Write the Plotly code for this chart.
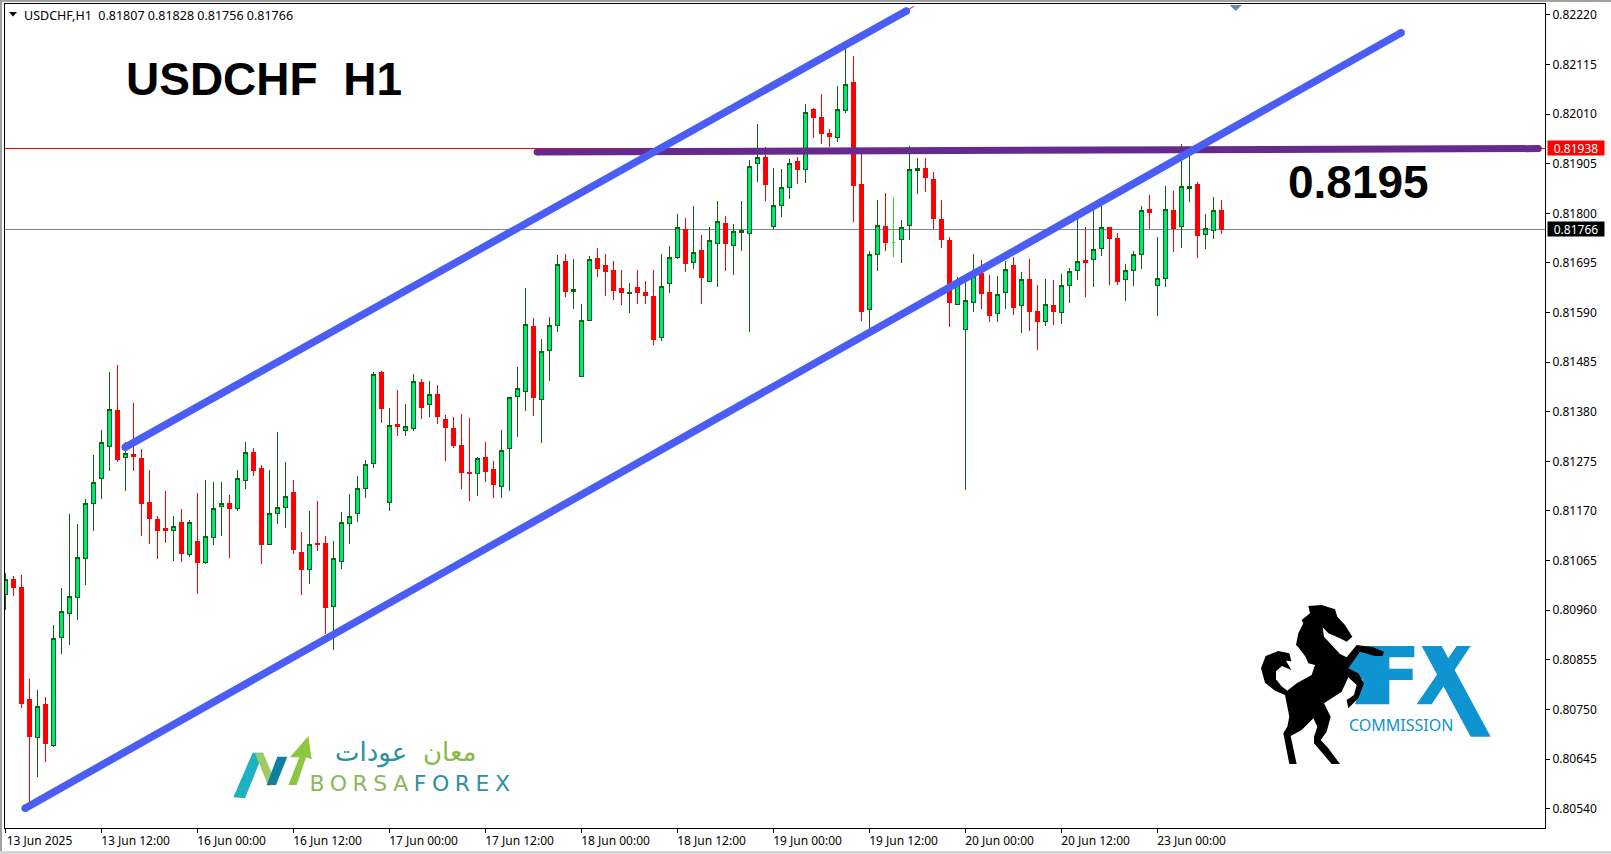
import plotly.graph_objects as go

W, H = 1611, 854
L, R, T, B = 5, 1545, 4, 828

opens = [0.80994,0.81024,0.81007,0.80770,0.80690,0.80761,0.80673,0.80903,0.80953,0.80987,
0.81070,0.81186,0.81239,0.81307,0.81382,0.81284,0.81290,0.81282,0.81188,0.81152,
0.81133,0.81129,0.81146,0.81078,0.81106,0.81061,0.81114,0.81180,0.81186,0.81176,
0.81235,0.81294,0.81260,0.81099,0.81165,0.81178,0.81210,0.81082,0.81046,0.81102,
0.81102,0.80967,0.81063,0.81144,0.81165,0.81218,0.81271,0.81464,0.81188,0.81353,
0.81340,0.81344,0.81441,0.81395,0.81417,0.81364,0.81345,0.81309,0.81252,0.81249,
0.81284,0.81258,0.81222,0.81302,0.81412,0.81423,0.81561,0.81405,0.81510,0.81563,
0.81697,0.81634,0.81455,0.81573,0.81705,0.81690,0.81678,0.81640,0.81630,0.81642,
0.81633,0.81623,0.81537,0.81652,0.81707,0.81766,0.81696,0.81721,0.81656,0.81736,
0.81779,0.81732,0.81760,0.81758,0.81905,0.81919,0.81772,0.81816,0.81854,0.81909,
0.81893,0.82020,0.82003,0.81969,0.81961,0.82018,0.82076,0.81861,0.81597,0.81713,
0.81772,0.81738,0.81745,0.81774,0.81891,0.81895,0.81872,0.81787,0.81743,0.81608,
0.81555,0.81612,0.81672,0.81633,0.81587,0.81633,0.81689,0.81604,0.81659,0.81592,
0.81570,0.81604,0.81591,0.81648,0.81678,0.81700,0.81703,0.81726,0.81769,0.81746,
0.81659,0.81678,0.81712,0.81808,0.81648,0.81663,0.81806,0.81773,0.81853,0.81860,
0.81756,0.81764,0.81807]
highs = [0.81038,0.81032,0.81034,0.80814,0.80791,0.80776,0.80929,0.81007,0.81164,0.81142,
0.81195,0.81289,0.81341,0.81464,0.81479,0.81317,0.81399,0.81301,0.81257,0.81159,
0.81212,0.81159,0.81174,0.81150,0.81207,0.81236,0.81231,0.81231,0.81204,0.81257,
0.81316,0.81303,0.81267,0.81257,0.81337,0.81274,0.81236,0.81126,0.81169,0.81191,
0.81117,0.81106,0.81168,0.81206,0.81244,0.81277,0.81464,0.81466,0.81387,0.81426,
0.81396,0.81460,0.81449,0.81445,0.81436,0.81373,0.81369,0.81375,0.81366,0.81285,
0.81316,0.81275,0.81341,0.81411,0.81474,0.81642,0.81578,0.81533,0.81580,0.81712,
0.81714,0.81703,0.81608,0.81709,0.81726,0.81714,0.81699,0.81680,0.81652,0.81680,
0.81657,0.81680,0.81714,0.81731,0.81798,0.81790,0.81815,0.81754,0.81771,0.81826,
0.81794,0.81777,0.81826,0.81913,0.81989,0.81940,0.81896,0.81894,0.81915,0.81919,
0.82031,0.82023,0.82053,0.81978,0.82069,0.82148,0.82133,0.81930,0.81720,0.81828,
0.81843,0.81834,0.81786,0.81942,0.81917,0.81917,0.81887,0.81828,0.81750,0.81666,
0.81663,0.81714,0.81702,0.81670,0.81668,0.81700,0.81708,0.81676,0.81704,0.81649,
0.81662,0.81659,0.81672,0.81684,0.81788,0.81770,0.81808,0.81816,0.81771,0.81759,
0.81693,0.81721,0.81816,0.81839,0.81750,0.81858,0.81848,0.81947,0.81928,0.81867,
0.81799,0.81835,0.81828]
lows = [0.80960,0.80989,0.80754,0.80548,0.80608,0.80639,0.80670,0.80868,0.80887,0.80940,
0.81014,0.81128,0.81196,0.81255,0.81274,0.81213,0.81255,0.81118,0.81101,0.81069,
0.81103,0.81065,0.81061,0.81073,0.80995,0.81058,0.81099,0.81116,0.81071,0.81169,
0.81217,0.81243,0.81058,0.81099,0.81142,0.81135,0.81078,0.80992,0.81016,0.81085,
0.80910,0.80876,0.81048,0.81101,0.81147,0.81198,0.81260,0.81357,0.81169,0.81329,
0.81328,0.81340,0.81364,0.81369,0.81354,0.81275,0.81304,0.81216,0.81191,0.81202,
0.81231,0.81198,0.81198,0.81213,0.81326,0.81382,0.81371,0.81314,0.81445,0.81549,
0.81623,0.81598,0.81455,0.81573,0.81665,0.81625,0.81617,0.81606,0.81589,0.81608,
0.81608,0.81521,0.81530,0.81631,0.81703,0.81676,0.81682,0.81608,0.81655,0.81644,
0.81678,0.81669,0.81720,0.81549,0.81866,0.81826,0.81766,0.81793,0.81831,0.81862,
0.81864,0.81959,0.81947,0.81940,0.81951,0.82013,0.81782,0.81572,0.81555,0.81678,
0.81720,0.81707,0.81695,0.81743,0.81841,0.81845,0.81767,0.81726,0.81559,0.81606,
0.81214,0.81592,0.81598,0.81571,0.81571,0.81597,0.81584,0.81546,0.81550,0.81511,
0.81561,0.81563,0.81565,0.81611,0.81659,0.81622,0.81645,0.81709,0.81649,0.81649,
0.81615,0.81647,0.81683,0.81767,0.81582,0.81643,0.81719,0.81726,0.81825,0.81705,
0.81724,0.81746,0.81756]
closes = [0.81025,0.81008,0.80762,0.80692,0.80756,0.80677,0.80900,0.80958,0.80989,0.81072,
0.81186,0.81231,0.81315,0.81385,0.81279,0.81292,0.81285,0.81186,0.81154,0.81128,
0.81129,0.81138,0.81080,0.81146,0.81061,0.81116,0.81176,0.81186,0.81175,0.81239,
0.81294,0.81255,0.81099,0.81165,0.81178,0.81201,0.81088,0.81046,0.81099,0.81099,
0.80965,0.81070,0.81146,0.81159,0.81218,0.81269,0.81459,0.81387,0.81351,0.81349,
0.81349,0.81444,0.81390,0.81417,0.81369,0.81346,0.81308,0.81251,0.81249,0.81281,
0.81253,0.81227,0.81298,0.81410,0.81429,0.81565,0.81410,0.81508,0.81563,0.81692,
0.81634,0.81639,0.81573,0.81702,0.81683,0.81676,0.81636,0.81632,0.81633,0.81632,
0.81625,0.81532,0.81645,0.81707,0.81770,0.81694,0.81717,0.81664,0.81743,0.81783,
0.81736,0.81762,0.81764,0.81899,0.81918,0.81861,0.81817,0.81855,0.81906,0.81892,
0.82014,0.82002,0.81969,0.81962,0.82020,0.82073,0.81858,0.81593,0.81713,0.81774,
0.81738,0.81738,0.81770,0.81893,0.81895,0.81875,0.81789,0.81744,0.81611,0.81649,
0.81616,0.81666,0.81631,0.81584,0.81629,0.81682,0.81601,0.81659,0.81592,0.81571,
0.81606,0.81592,0.81648,0.81676,0.81699,0.81696,0.81724,0.81769,0.81747,0.81656,
0.81680,0.81712,0.81807,0.81802,0.81663,0.81809,0.81767,0.81856,0.81856,0.81753,
0.81767,0.81805,0.81766]

time_tick_bars = [0,12,24,36,48,60,72,84,96,108,120,132,144]
time_tick_labels = ["13 Jun 2025","13 Jun 12:00","16 Jun 00:00","16 Jun 12:00","17 Jun 00:00",
    "17 Jun 12:00","18 Jun 00:00","18 Jun 12:00","19 Jun 00:00","19 Jun 12:00",
    "20 Jun 00:00","20 Jun 12:00","23 Jun 00:00"]
price_ticks = [0.82220,0.82115,0.82010,0.81905,0.81800,0.81695,0.81590,0.81485,0.81380,
    0.81275,0.81170,0.81065,0.80960,0.80855,0.80750,0.80645,0.80540]

lower_channel_x = [2.46, 174.46]
lower_channel_y = [0.80541, 0.82182]
upper_channel_x = [14.96, 112.6]
upper_channel_y = [0.81305, 0.82228]
upper_stub_x = [112.6, 113.6]
upper_stub_y = [0.82228, 0.82239]
resistance_x = [66.46, 191.6]
resistance_y = [0.81930, 0.81937]
resistance_level = 0.81938
last_price = 0.81766

x_range = [(L - 5.5) / 8, (R - 5.5) / 8]
y_range = [0.80499, 0.82243]

BLUE = "#4a5df5"
PURPLE = "#662a8e"
UP = "#00e676"
UP_EDGE = "#0b640b"
DOWN = "#ff0000"
FX_BLUE = "#0e94d0"
AXIS_FONT = "Noto Sans"


def px(x):
    return (x - L) / (R - L)


def py(y):
    return (B - y) / (B - T)


def path(points, dx, dy, k=1 / 3):
    parts = []
    for n, (a, b) in enumerate(points):
        parts.append(("M" if n == 0 else "L") + f"{px(dx + a * k):.5f},{py(dy + b * k):.5f}")
    return " ".join(parts) + " Z"


def deco(points, color, dx, dy):
    return dict(type="path", xref="paper", yref="paper", path=path(points, dx, dy),
                fillcolor=color, line=dict(width=0), layer="above")


bars = list(range(len(opens)))
plain = [i for i in bars if opens[i] != closes[i]]
flat = [i for i in bars if opens[i] == closes[i]]

fig = go.Figure()
fig.add_trace(go.Candlestick(
    x=plain,
    open=[opens[i] for i in plain], high=[highs[i] for i in plain],
    low=[lows[i] for i in plain], close=[closes[i] for i in plain],
    increasing=dict(line=dict(color=UP_EDGE, width=1), fillcolor=UP),
    decreasing=dict(line=dict(color=DOWN, width=1), fillcolor=DOWN),
    whiskerwidth=0, showlegend=False, hoverinfo="skip"))
fig.add_trace(go.Candlestick(
    x=flat,
    open=[opens[i] for i in flat], high=[highs[i] for i in flat],
    low=[lows[i] for i in flat], close=[closes[i] for i in flat],
    increasing=dict(line=dict(color="#22e022", width=1), fillcolor="#22e022"),
    decreasing=dict(line=dict(color="#22e022", width=1), fillcolor="#22e022"),
    whiskerwidth=0, showlegend=False, hoverinfo="skip"))

fig.add_trace(go.Scatter(x=resistance_x, y=resistance_y, mode="lines+markers",
    line=dict(color=PURPLE, width=7), marker=dict(color=PURPLE, size=7),
    showlegend=False, hoverinfo="skip"))
fig.add_trace(go.Scatter(x=upper_stub_x, y=upper_stub_y, mode="lines",
    line=dict(color=DOWN, width=1, dash="dash"), showlegend=False, hoverinfo="skip"))
fig.add_trace(go.Scatter(x=upper_channel_x, y=upper_channel_y, mode="lines+markers",
    line=dict(color=BLUE, width=7.5), marker=dict(color=BLUE, size=7.5),
    showlegend=False, hoverinfo="skip"))
fig.add_trace(go.Scatter(x=lower_channel_x, y=lower_channel_y, mode="lines+markers",
    line=dict(color=BLUE, width=7.5), marker=dict(color=BLUE, size=7.5),
    showlegend=False, hoverinfo="skip"))

shapes = [
    dict(type="line", xref="x domain", yref="y", x0=0, x1=1, y0=resistance_level, y1=resistance_level,
         line=dict(color=DOWN, width=1), layer="below"),
    dict(type="line", xref="x domain", yref="y", x0=0, x1=1, y0=last_price, y1=last_price,
         line=dict(color="#778899", width=1), layer="below"),
    dict(type="rect", xref="paper", yref="paper", x0=px(0), x1=px(W), y0=py(0), y1=py(2),
         fillcolor="#a0a0a0", line=dict(width=0), layer="above"),
    dict(type="rect", xref="paper", yref="paper", x0=px(0), x1=px(2), y0=py(0), y1=py(H),
         fillcolor="#a0a0a0", line=dict(width=0), layer="above"),
    dict(type="rect", xref="paper", yref="paper", x0=px(0), x1=px(W), y0=py(851), y1=py(H),
         fillcolor="#d8d8d8", line=dict(width=0), layer="above"),
    dict(type="path", xref="paper", yref="paper",
         path=f"M{px(9):.5f},{py(12):.5f} L{px(17):.5f},{py(12):.5f} L{px(13):.5f},{py(16.5):.5f} Z",
         fillcolor="black", line=dict(width=0), layer="above"),
    dict(type="path", xref="paper", yref="paper",
         path=f"M{px(1229.5):.5f},{py(5):.5f} L{px(1242):.5f},{py(5):.5f} L{px(1235.7):.5f},{py(11):.5f} Z",
         fillcolor="#778899", line=dict(width=0), layer="above"),
]

# FX COMMISSION logo
fx_dx, fx_dy = 1200, 570
shapes.append(deco([(480,228),(643,228),(643,262),(568,262),(568,296),(638,296),(638,330),(568,330),
                    (568,403),(465,403),(490,330),(442,298)], FX_BLUE, fx_dx, fx_dy))
shapes.append(deco([(665,228),(725,228),(872,500),(812,500)], FX_BLUE, fx_dx, fx_dy))
shapes.append(deco([(770,228),(812,228),(695,403),(650,403)], FX_BLUE, fx_dx, fx_dy))
horse = [(325,108),(365,105),(405,118),(412,140),(435,165),(457,200),(440,215),(420,205),(385,190),(368,172),
         (372,200),(395,225),(420,252),(440,262),(470,225),(520,232),(552,245),(548,258),(525,258),(480,245),
         (445,295),(475,310),(492,340),(475,385),(445,415),(440,390),(462,375),(470,345),(445,322),(425,365),
         (372,400),(392,440),(380,485),(362,510),(385,535),(420,582),(395,582),(342,520),(342,500),(352,470),
         (340,445),(305,480),(272,498),(290,582),(268,582),(250,490),(262,470),(268,440),(255,375),
         (225,362),(195,338),(183,295),(197,258),(235,243),(268,250),(274,274),(258,272),(274,300),(246,288),
         (228,304),(228,328),(244,348),(262,362),(290,340),(335,315),(345,285),(325,280),(315,258),(295,232),(288,225),
         (295,190),(310,160),(305,150),(330,130)]
shapes.append(deco(horse, "black", fx_dx, fx_dy))

# BORSAFOREX logo
bf_dx, bf_dy = 200, 700
shapes.append(deco([(100,292),(158,158),(190,158),(135,295)], "#1fb0c4", bf_dx, bf_dy))
shapes.append(deco([(165,160),(190,160),(228,250),(205,258)], "#9ccc65", bf_dx, bf_dy))
shapes.append(deco([(200,255),(232,170),(262,170),(228,255)], "#0d7f9f", bf_dx, bf_dy))
shapes.append(deco([(265,255),(298,172),(270,172),(325,108),(335,178),(318,172),(290,255)], "#8dc63f", bf_dx, bf_dy))


def note(x, y, text, size, color="black", family="Liberation Sans", xanchor="center", **kw):
    return dict(xref="paper", yref="paper", x=px(x), y=py(y), text=text, showarrow=False,
                xanchor=xanchor, yanchor="middle", font=dict(family=family, size=size, color=color), **kw)


annotations = [
    note(22, 15, "USDCHF,H1&nbsp;&nbsp;0.81807 0.81828 0.81756 0.81766", 12.5, family=AXIS_FONT, xanchor="left"),
    note(263.5, 79, "<b>USDCHF&nbsp;&nbsp;H1</b>", 46),
    note(1358, 182, "<b>0.8195</b>", 46),
    note(1401, 725, "COMMISSION", 16, color=FX_BLUE, family="Noto Sans"),
    note(412.5, 783, "<span style='color:#8ab85c'>BORSA</span><span style='color:#2f8f9f'>FOREX</span>", 22,
         family="DejaVu Sans"),
    note(449.5, 752, "معان", 26, color="#8ab84a", family="DejaVu Sans"),
    note(371, 752, "عودات", 26, color="#2a8f9f", family="DejaVu Sans"),
    dict(xref="paper", yref="y", x=px(1547), y=resistance_level, text="0.81938", showarrow=False,
         xanchor="left", yanchor="middle", bgcolor=DOWN, width=56, height=14, borderpad=0,
         font=dict(family=AXIS_FONT, size=12, color="white")),
    dict(xref="paper", yref="y", x=px(1547), y=last_price, text="0.81766", showarrow=False,
         xanchor="left", yanchor="middle", bgcolor="black", width=56, height=14, borderpad=0,
         font=dict(family=AXIS_FONT, size=12, color="white")),
]

fig.update_layout(
    width=W, height=H, margin=dict(l=L, r=W - R, t=T, b=H - B, pad=0, autoexpand=False),
    paper_bgcolor="white", plot_bgcolor="white", showlegend=False,
    shapes=shapes, annotations=annotations,
    font=dict(family=AXIS_FONT, size=12, color="black"),
    xaxis=dict(range=x_range, rangeslider=dict(visible=False), showgrid=False, zeroline=False,
               showline=True, mirror=True, linecolor="black", linewidth=1,
               tickmode="array", tickvals=time_tick_bars, ticktext=time_tick_labels,
               ticks="outside", ticklen=4, tickcolor="black", ticklabelshift=34, ticklabelstandoff=-2,
               tickfont=dict(family=AXIS_FONT, size=12, color="black")),
    yaxis=dict(range=y_range, side="right", showgrid=False, zeroline=False,
               showline=True, mirror=True, linecolor="black", linewidth=1,
               tickmode="array", tickvals=price_ticks, ticktext=[f"{v:.5f}" for v in price_ticks],
               ticks="outside", ticklen=4, tickcolor="black",
               tickfont=dict(family=AXIS_FONT, size=12, color="black")),
)

post = """
document.body.style.margin = '0';
document.body.style.overflow = 'hidden';
document.querySelectorAll('.annotation-text').forEach(function (t) {
  if (t.textContent === 'BORSAFOREX') { t.style.letterSpacing = '5.5px'; }
});
document.querySelectorAll('.layer-below .shapelayer path, .trace.boxes path').forEach(function (p) {
  p.style.shapeRendering = 'crispEdges';
});
"""
fig.write_html("out.html", post_script=post, config={"displayModeBar": False})
